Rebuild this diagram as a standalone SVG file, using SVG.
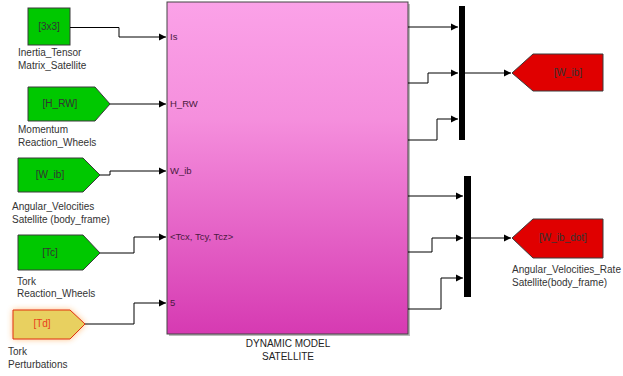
<svg xmlns="http://www.w3.org/2000/svg" width="623" height="376" viewBox="0 0 623 376">
<defs>
<linearGradient id="pink" x1="0" y1="0" x2="0" y2="1">
<stop offset="0" stop-color="#FBA2E8"/>
<stop offset="0.35" stop-color="#F58FDD"/>
<stop offset="1" stop-color="#D63AB2"/>
</linearGradient>
<filter id="glow" x="-30%" y="-50%" width="160%" height="200%">
<feGaussianBlur stdDeviation="3"/>
</filter>
<marker id="arr" markerWidth="8" markerHeight="8" refX="7" refY="4" orient="auto" markerUnits="userSpaceOnUse">
<path d="M0,0.5 L7,4 L0,7.5 Z" fill="#000"/>
</marker>
<style>
.t{font-family:"Liberation Sans",Arial,sans-serif;font-size:10px;fill:#333}
.p{font-family:"Liberation Sans",Arial,sans-serif;font-size:9.5px;fill:#4a1a40}
.bt{font-family:"Liberation Sans",Arial,sans-serif;font-size:10px;fill:#222;text-anchor:middle}
.g{fill:#00C800;stroke:#3a3a3a;stroke-width:1}
.r{fill:#E00000;stroke:#3a3a3a;stroke-width:1}
.c{fill:none;stroke:#000;stroke-width:1}
</style>
</defs>
<rect width="623" height="376" fill="#fff"/>

<g id="main">
<rect x="169" y="4" width="241" height="332" fill="#777" opacity="0.5"/>
<rect x="167" y="2" width="241" height="332" fill="url(#pink)" stroke="#444" stroke-width="1"/>
<text class="p" x="170" y="40">Is</text>
<text class="p" x="170" y="107">H_RW</text>
<text class="p" x="170" y="174">W_ib</text>
<text class="p" x="170" y="240">&lt;Tcx, Tcy, Tcz&gt;</text>
<text class="p" x="170" y="306">5</text>
<text class="bt" x="288" y="347">DYNAMIC MODEL</text>
<text class="bt" x="288" y="360">SATELLITE</text>
</g>

<g id="const_inertia">
<rect class="g" x="28" y="8" width="42" height="37"/>
<text class="t" x="49" y="30" text-anchor="middle" fill="#111">[3x3]</text>
<text class="t" x="18" y="56">Inertia_Tensor</text>
<text class="t" x="18" y="69">Matrix_Satellite</text>
</g>

<g id="from_HRW">
<path class="g" d="M28,87 H95 L110,104 L95,121 H28 Z"/>
<text class="t" x="60" y="107" text-anchor="middle" fill="#111">[H_RW]</text>
<text class="t" x="18" y="133">Momentum</text>
<text class="t" x="18" y="146">Reaction_Wheels</text>
</g>

<g id="from_Wib">
<path class="g" d="M18,158 H83 L100,175 L83,192 H18 Z"/>
<text class="t" x="50" y="178" text-anchor="middle" fill="#111">[W_ib]</text>
<text class="t" x="12" y="210">Angular_Velocities</text>
<text class="t" x="12" y="223">Satellite (body_frame)</text>
</g>

<g id="from_Tc">
<path class="g" d="M18,235 H83 L100,253 L83,270 H18 Z"/>
<text class="t" x="50" y="256" text-anchor="middle" fill="#111">[Tc]</text>
<text class="t" x="17" y="285">Tork</text>
<text class="t" x="17" y="297">Reaction_Wheels</text>
</g>

<g id="from_Td">
<path d="M13,310 H70 L85,324 L70,339 H13 Z" fill="#FF9A30" opacity="0.7" filter="url(#glow)"/>
<path d="M13,310 H70 L85,324 L70,339 H13 Z" fill="#E8D060" stroke="#E03010" stroke-width="1"/>
<text class="t" x="42" y="327" text-anchor="middle" style="fill:#E8401A">[Td]</text>
<text class="t" x="8" y="355">Tork</text>
<text class="t" x="8" y="368">Perturbations</text>
</g>

<g id="mux1">
<rect x="459" y="6" width="6" height="134" fill="#000"/>
</g>
<g id="mux2">
<rect x="464" y="176" width="7" height="121" fill="#000"/>
</g>

<g id="goto_Wib">
<path class="r" d="M512,73 L533,54 H603 V91 H533 Z"/>
<text class="t" x="568" y="76" text-anchor="middle" fill="#111">[W_ib]</text>
</g>

<g id="goto_Wibdot">
<path class="r" d="M512,238 L533,219 H603 V258 H533 Z"/>
<text class="t" x="563" y="241" text-anchor="middle" fill="#111">[W_ib_dot]</text>
<text class="t" x="512" y="273">Angular_Velocities_Rate</text>
<text class="t" x="512" y="286">Satellite(body_frame)</text>
</g>

<g id="connectors">
<path class="c" d="M70,27.5 H119 V37 H166" marker-end="url(#arr)"/>
<path class="c" d="M110,104 H166" marker-end="url(#arr)"/>
<path class="c" d="M100,175 H110 V171 H166" marker-end="url(#arr)"/>
<path class="c" d="M100,253 H134 V237 H166" marker-end="url(#arr)"/>
<path class="c" d="M85,324 H134 V303 H166" marker-end="url(#arr)"/>
<path class="c" d="M408,27 H458" marker-end="url(#arr)"/>
<path class="c" d="M408,83 H428 V73 H458" marker-end="url(#arr)"/>
<path class="c" d="M408,140 H437 V119 H458" marker-end="url(#arr)"/>
<path class="c" d="M465,73 H511" marker-end="url(#arr)"/>
<path class="c" d="M408,196 H463" marker-end="url(#arr)"/>
<path class="c" d="M408,252 H432 V238 H463" marker-end="url(#arr)"/>
<path class="c" d="M408,309 H441 V278 H463" marker-end="url(#arr)"/>
<path class="c" d="M471,238 H511" marker-end="url(#arr)"/>
</g>
</svg>
